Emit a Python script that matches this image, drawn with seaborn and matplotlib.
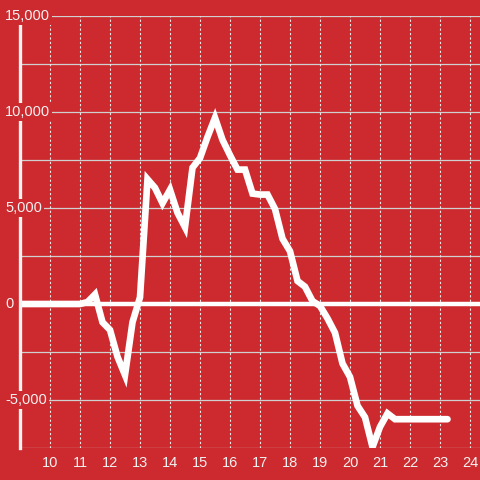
import numpy as np
import pandas as pd
import matplotlib
matplotlib.use("Agg")
import matplotlib.pyplot as plt
import seaborn as sns

# hour of day vs. value
hours = [9.0, 9.25, 9.5, 9.75, 10.0, 10.25, 10.5, 10.75, 11.0, 11.25, 11.5, 11.75,
         12.0, 12.25, 12.5, 12.75, 13.0, 13.25, 13.5, 13.75, 14.0, 14.25, 14.5, 14.75,
         15.0, 15.25, 15.5, 15.75, 16.0, 16.25, 16.5, 16.75, 17.0, 17.25, 17.5, 17.75,
         18.0, 18.25, 18.5, 18.75, 19.0, 19.25, 19.5, 19.75, 20.0, 20.25, 20.5, 20.75,
         21.0, 21.25, 21.5, 21.75, 22.0, 22.25, 22.5, 22.75, 23.0, 23.25]
values = [0, 0, 0, 0, 0, 0, 0, 0, 0, 100, 500, -950,
          -1350, -2750, -3700, -950, 350, 6500, 6050, 5250, 5950, 4750, 4000, 7100,
          7600, 8700, 9700, 8550, 7750, 7000, 7000, 5750, 5700, 5700, 4950, 3400,
          2750, 1200, 900, 150, -100, -750, -1500, -3100, -3800, -5300, -5900, -7450,
          -6400, -5700, -6000, -6000, -6000, -6000, -6000, -6000, -6000, -6000]

x_ticks = list(range(10, 25))
y_ticks = [-5000, 0, 5000, 10000, 15000]
y_labels = ["-5,000", "0", "5,000", "10,000", "15,000"]

bg = "#cc2a2e"
fg = "#f2f2f2"

df = pd.DataFrame({"hour": hours, "value": values})

sns.set_style("white")
plt.rcParams["font.family"] = ["Liberation Sans", "DejaVu Sans"]

fig = plt.figure(figsize=(4.8, 4.8), dpi=100, facecolor=bg)
ax = fig.add_axes([20 / 480, 32 / 480, 460 / 480, 432 / 480], facecolor=bg)

ax.set_xlim(9.0, 24.333)
ax.set_ylim(-7500, 15000)

# grid
for v in np.arange(-7500, 15001, 2500):
    ax.axhline(v, color="#d0d0d0", lw=0.9, zorder=1)
for t in x_ticks:
    ax.axvline(t, color="#e8e8e8", lw=0.8, ls=(0, (2, 2)), zorder=1)
ax.axhline(0, color="white", lw=3.2, zorder=2)

sns.lineplot(data=df, x="hour", y="value", ax=ax, color="white", lw=4.8,
             zorder=3, solid_joinstyle="miter")

for s in ["top", "right", "bottom"]:
    ax.spines[s].set_visible(False)
ax.spines["left"].set_color(fg)
ax.spines["left"].set_linewidth(2.4)
ax.spines["left"].set_zorder(4)

ax.set_xticks(x_ticks)
ax.set_xticklabels([str(t) for t in x_ticks], color=fg, fontsize=10.5)
ax.tick_params(axis="x", length=0, pad=6)
ax.set_yticks([])
ax.set_xlabel("")
ax.set_ylabel("")

for v, lab in zip(y_ticks, y_labels):
    ax.text(-15 / 460 * (24.333 - 9.0) + 9.0, v, lab, color=fg, fontsize=10.5,
            ha="left", va="center", zorder=5, clip_on=False,
            bbox=dict(boxstyle="square,pad=0.15", fc=bg, ec="none"))

fig.savefig("out.png", dpi=100, facecolor=bg)
